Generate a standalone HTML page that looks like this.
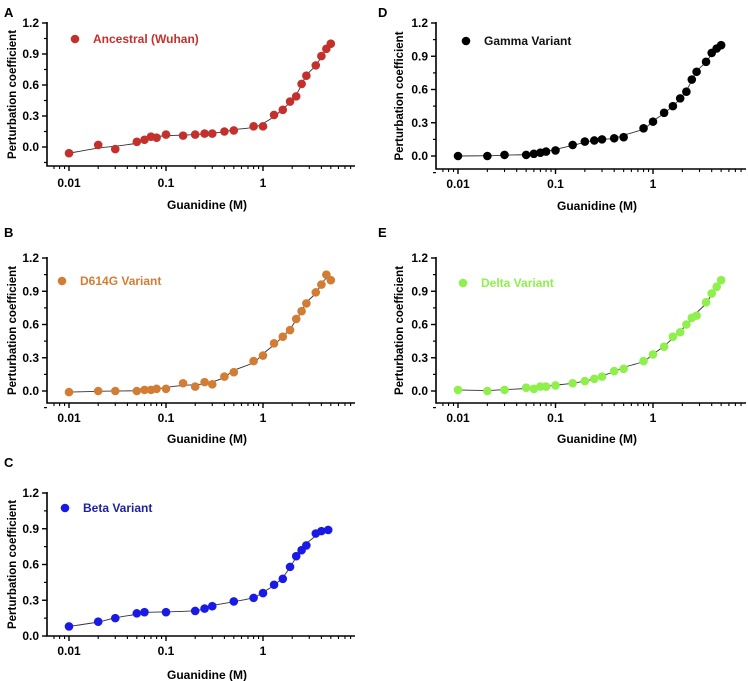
<!DOCTYPE html>
<html><head><meta charset="utf-8"><style>
html,body{margin:0;padding:0;background:#fff;}
svg{display:block;font-family:"Liberation Sans",Arial,sans-serif;font-weight:bold;}
</style></head><body>
<svg id="fig" width="748" height="681" viewBox="0 0 748 681" xmlns="http://www.w3.org/2000/svg"></svg>
<script>
const xValsA=[0.01,0.02,0.03,0.05,0.06,0.07,0.08,0.1,0.15,0.2,0.25,0.3,0.4,0.5,0.8,1,1.3,1.6,1.9,2.2,2.5,2.8,3.5,4,4.5,5];
const yAncestral=[-0.06,0.02,-0.02,0.05,0.07,0.10,0.09,0.12,0.11,0.12,0.13,0.13,0.15,0.16,0.20,0.20,0.31,0.36,0.44,0.49,0.61,0.69,0.79,0.88,0.95,1.00];
const yD614G=[-0.01,0,0,0,0.01,0.01,0.02,0.02,0.07,0.04,0.08,0.06,0.13,0.17,0.27,0.32,0.43,0.49,0.55,0.65,0.72,0.79,0.89,0.96,1.05,1.00];
const xValsC=[0.01,0.02,0.03,0.05,0.06,0.1,0.2,0.25,0.3,0.5,0.8,1,1.3,1.6,1.9,2.2,2.5,2.8,3.5,4,4.7];
const yBeta=[0.08,0.12,0.15,0.19,0.20,0.20,0.21,0.23,0.25,0.29,0.32,0.36,0.43,0.48,0.58,0.67,0.72,0.76,0.86,0.88,0.89];
const yGamma=[0.00,0.00,0.01,0.01,0.02,0.03,0.04,0.05,0.10,0.13,0.14,0.15,0.16,0.17,0.25,0.31,0.39,0.45,0.52,0.58,0.69,0.76,0.85,0.93,0.97,1.00];
const yDelta=[0.01,0.00,0.01,0.03,0.02,0.04,0.04,0.05,0.07,0.09,0.11,0.13,0.18,0.20,0.27,0.33,0.40,0.49,0.53,0.60,0.66,0.68,0.80,0.88,0.94,1.00];
const yTicks=[0,0.3,0.6,0.9,1.2];
const yTickLabels=["0.0","0.3","0.6","0.9","1.2"];
const xTicks=[0.01,0.1,1];
const xTickLabels=["0.01","0.1","1"];

const NS="http://www.w3.org/2000/svg";
const svg=document.getElementById('fig');
function mk(tag,attrs,parent){const e=document.createElementNS(NS,tag);for(const k in attrs)e.setAttribute(k,attrs[k]);(parent||svg).appendChild(e);return e;}

const panels=[
 {id:'a',letter:'A',lx:4,ly:17,left:47,right:355,x001:69,x1:263,y12:23,y0:147,bottom:166,xs:xValsA,ys:yAncestral,color:'#c4302b',tcolor:'#c4302b',label:'Ancestral (Wuhan)',legX:75,legY:39,tickY:187,titleY:209,ytX:12},
 {id:'b',letter:'B',lx:4,ly:237,left:47,right:355,x001:69,x1:263,y12:258,y0:391,bottom:403,xs:xValsA,ys:yD614G,color:'#d27d33',tcolor:'#d27d33',label:'D614G Variant',legX:62,legY:281,tickY:422,titleY:443,ytX:12},
 {id:'c',letter:'C',lx:4,ly:467,left:47,right:355,x001:69,x1:263,y12:493,y0:636,bottom:636,xs:xValsC,ys:yBeta,color:'#1a1ae6',tcolor:'#22229a',label:'Beta Variant',legX:65,legY:508,tickY:655,titleY:679,ytX:12},
 {id:'d',letter:'D',lx:378,ly:17,left:436,right:746,x001:458,x1:653,y12:23,y0:156,bottom:169,xs:xValsA,ys:yGamma,color:'#000',tcolor:'#111',label:'Gamma Variant',legX:466,legY:41,tickY:188,titleY:210,ytX:399},
 {id:'e',letter:'E',lx:378,ly:237,left:436,right:746,x001:458,x1:653,y12:258,y0:391,bottom:403,xs:xValsA,ys:yDelta,color:'#8ef04a',tcolor:'#8ef04a',label:'Delta Variant',legX:463,legY:283,tickY:422,titleY:443,ytX:399}
];

panels.forEach(p=>{
 const g=mk('g',{});
 
 
 const dec=(p.x1-p.x001)/2;
 const X=v=>p.x1+Math.log10(v)*dec;
 const Y=v=>p.y0-(v/1.2)*(p.y0-p.y12);
 const letter=mk('text',{x:p.lx,y:p.ly,'font-size':13,fill:'#000'},g);letter.textContent=p.letter;
 
 const ax=mk('path',{d:`M${p.left},${p.y12-1}V${p.bottom}H${p.right}`,stroke:'#000','stroke-width':1.6,fill:'none'},g);
 
 yTicks.forEach((t,i)=>{
  mk('line',{x1:p.left-5,x2:p.left,y1:Y(t),y2:Y(t),stroke:'#000','stroke-width':1.4},g);
  if(i<yTicks.length-1) mk('line',{x1:p.left-3,x2:p.left,y1:Y(t+0.15),y2:Y(t+0.15),stroke:'#000','stroke-width':1.2},g);
  const tl=mk('text',{x:p.left-8,y:Y(t)+4,'font-size':12,'text-anchor':'end',fill:'#000'},g);tl.textContent=yTickLabels[i];
  
 });
 if(p.bottom>p.y0+3) mk('line',{x1:p.left-3,x2:p.left,y1:Y(-0.15),y2:Y(-0.15),stroke:'#000','stroke-width':1.2},g);
 for(let e=-3;e<=0;e++){for(let m=1;m<=9;m++){const v=m*Math.pow(10,e);const x=X(v);if(x<p.left+1||x>p.right)continue;
  mk('line',{x1:x,x2:x,y1:p.bottom,y2:p.bottom+(m===1?5:3),stroke:'#000','stroke-width':m===1?1.4:1.1},g);}}
 xTicks.forEach((t,i)=>{const tl=mk('text',{x:X(t),y:p.tickY,'font-size':12,'text-anchor':'middle',fill:'#000'},g);tl.textContent=xTickLabels[i];
  });
 const xt=mk('text',{x:(p.left+p.right)/2+6,y:p.titleY,'font-size':12,'text-anchor':'middle',fill:'#000'},g);xt.textContent='Guanidine (M)';
 
 const yc=(p.y12+p.bottom)/2;
 const yt=mk('text',{x:p.ytX,y:yc,'font-size':11.5,'text-anchor':'middle',fill:'#000',transform:`rotate(-90 ${p.ytX} ${yc})`,dy:4},g);yt.textContent='Perturbation coefficient';
 
 const sm=p.ys.map((v,i)=>{const a=p.ys[Math.max(0,i-1)],c=p.ys[Math.min(p.ys.length-1,i+1)];return (i===0||i===p.ys.length-1)?v:(a+2*v+c)/4;});
 const pts=p.xs.map((v,i)=>[X(v),Y(sm[i])]);
 let d=`M${pts[0][0]},${pts[0][1]}`;
 for(let i=0;i<pts.length-1;i++){const p0=pts[Math.max(0,i-1)],p1=pts[i],p2=pts[i+1],p3=pts[Math.min(pts.length-1,i+2)];
  d+=`C${p1[0]+(p2[0]-p0[0])/6},${p1[1]+(p2[1]-p0[1])/6} ${p2[0]-(p3[0]-p1[0])/6},${p2[1]-(p3[1]-p1[1])/6} ${p2[0]},${p2[1]}`;}
 const fl=mk('path',{d:d,stroke:'#333','stroke-width':0.9,fill:'none'},g);
 
 p.xs.forEach((v,i)=>{const c=mk('circle',{cx:X(v),cy:Y(p.ys[i]),r:4.3,fill:p.color},g);
  });
 const lm=mk('circle',{cx:p.legX,cy:p.legY,r:4.3,fill:p.color},g);
 
 const lt=mk('text',{x:p.legX+18,y:p.legY+4,'font-size':12,fill:p.tcolor},g);lt.textContent=p.label;
 
});
</script>
</body></html>
